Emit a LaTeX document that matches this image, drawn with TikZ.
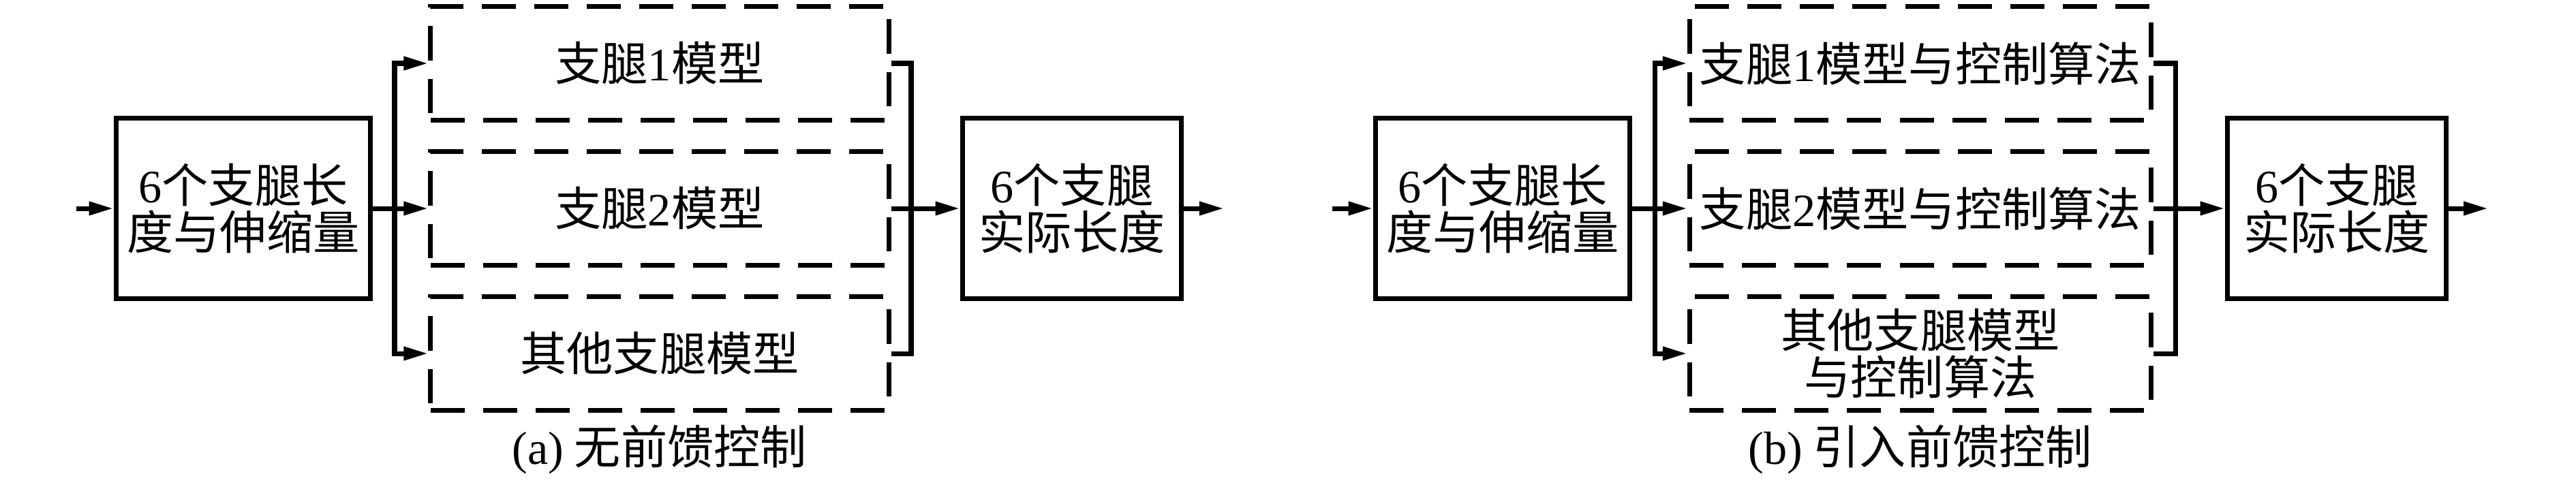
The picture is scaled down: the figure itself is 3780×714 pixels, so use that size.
\documentclass[tikz,border=0pt]{standalone}
\usepackage{fontspec}
\setmainfont{Liberation Serif}
\newfontfamily\cjk{Noto Sans CJK SC}
\usetikzlibrary{arrows.meta, positioning, calc}
\newcommand{\lat}[1]{{\rmfamily #1}}

\begin{document}
\begin{tikzpicture}[x=0.01cm, y=-0.01cm,
  bloc/.style={draw, line width=2.2pt, minimum height=2.65cm, align=center, inner sep=0pt},
  modele/.style={draw, line width=2pt, dash pattern=on 0.5cm off 0.27cm, minimum height=1.67cm, align=center, inner sep=0pt},
  fleche/.style={line width=2pt, -{Triangle[length=3.6mm, width=1.9mm]}},
  trait/.style={line width=2pt},
  every node/.style={font=\cjk\fontsize{19.4}{19.4}\selectfont}
]
  \useasboundingbox (0,0) rectangle (3780,714);
  % (a) sans anticipation
  \node[bloc, minimum width=3.73cm] (entA) at (357,306) {\lat{6}个支腿长\\度与伸缩量};
  \node[modele, minimum width=6.72cm] (modA1) at (968,93) {支腿\lat{1}模型};
  \node[modele, minimum width=6.72cm] (modA2) at (968,306) {支腿\lat{2}模型};
  \node[modele, minimum width=6.72cm] (modA3) at (968,519) {其他支腿模型};
  \node[bloc, minimum width=3.21cm] (sortA) at (1573,306) {\lat{6}个支腿\\实际长度};
  \node (titA) at (968,660) {\lat{(a)} 无前馈控制};
  \coordinate (inA) at (112,306);
  \coordinate (brA) at (579,306);
  \coordinate (busA) at (1337,306);
  \coordinate (outA) at (1796,306);
  % Liaisons (a)
  \draw[fleche] (inA) -- (entA.west);
  \draw[fleche] (entA.east) -- (modA2.west);
  \draw[fleche] (brA) |- (modA1.west);
  \draw[fleche] (brA) |- (modA3.west);
  \draw[trait] (modA1.east) -| (busA) |- (modA3.east);
  \draw[fleche] (modA2.east) -- (sortA.west);
  \draw[fleche] (sortA.east) -- (outA);

  % (b) avec anticipation
  \node[bloc, minimum width=3.73cm] (entB) at (2205,306) {\lat{6}个支腿长\\度与伸缩量};
  \node[modele, minimum width=6.77cm] (modB1) at (2818,93) {支腿\lat{1}模型与控制算法};
  \node[modele, minimum width=6.77cm] (modB2) at (2818,306) {支腿\lat{2}模型与控制算法};
  \node[modele, minimum width=6.77cm] (modB3) at (2818,519) {其他支腿模型\\与控制算法};
  \node[bloc, minimum width=3.21cm] (sortB) at (3429,306) {\lat{6}个支腿\\实际长度};
  \node (titB) at (2818,660) {\lat{(b)} 引入前馈控制};
  \coordinate (inB) at (1955,306);
  \coordinate (brB) at (2428,306);
  \coordinate (busB) at (3192,306);
  \coordinate (outB) at (3651,306);
  % Liaisons (b)
  \draw[fleche] (inB) -- (entB.west);
  \draw[fleche] (entB.east) -- (modB2.west);
  \draw[fleche] (brB) |- (modB1.west);
  \draw[fleche] (brB) |- (modB3.west);
  \draw[trait] (modB1.east) -| (busB) |- (modB3.east);
  \draw[fleche] (modB2.east) -- (sortB.west);
  \draw[fleche] (sortB.east) -- (outB);
\end{tikzpicture}
\end{document}
